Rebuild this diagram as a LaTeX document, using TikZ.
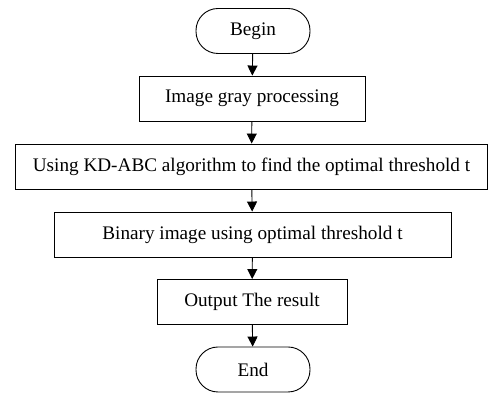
\documentclass[tikz,border=0pt]{standalone}
\usepackage{fontspec}
\setmainfont{Liberation Serif}
\usetikzlibrary{arrows.meta}
\begin{document}
\begin{tikzpicture}[x=1pt,y=1pt,
  box/.style={draw,line width=0.9pt,inner sep=0pt,font=\fontsize{19.2}{21}\selectfont,minimum height=45pt},
  term/.style={box,rounded corners=22pt,minimum width=114pt},
  arr/.style={line width=0.9pt,-{Triangle[length=10pt,width=10pt]}}]
\useasboundingbox[fill=white] (0,0) rectangle (488,393);
\node[term] (begin) at (253,362) {Begin};
\node[box,minimum width=226pt] (gray) at (252,294.5) {Image gray processing};
\node[box,minimum width=472pt] (abc) at (251.5,226.5) {Using KD-ABC algorithm to find the optimal threshold t};
\node[box,minimum width=397pt] (bin) at (252.5,158.5) {Binary image using optimal threshold t};
\node[box,minimum width=190pt] (out) at (252,91) {Output The result};
\node[term] (end) at (253,23.5) {End};
\draw[arr] (begin) -- (gray);
\draw[arr] (gray) -- (abc);
\draw[arr] (abc) -- (bin);
\draw[arr] (bin) -- (out);
\draw[arr] (out) -- (end);
\end{tikzpicture}
\end{document}
